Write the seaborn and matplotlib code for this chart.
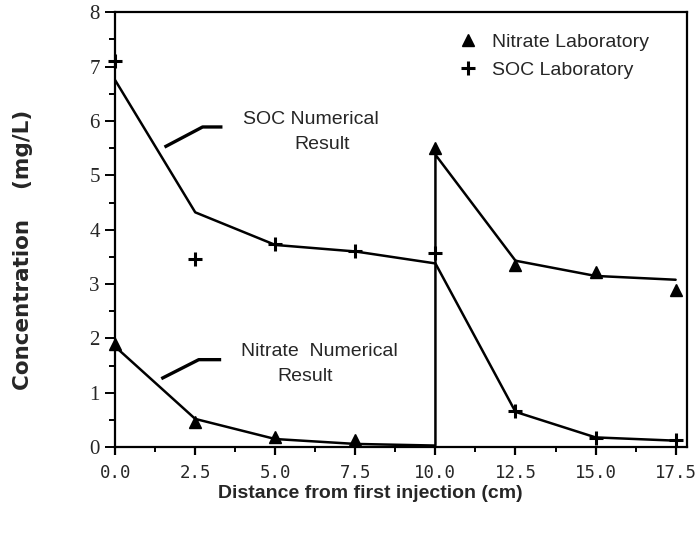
import numpy as np
import pandas as pd
import matplotlib
matplotlib.use("Agg")
import matplotlib.pyplot as plt
from matplotlib.ticker import MultipleLocator, FormatStrFormatter
import seaborn as sns

# distance along column (cm)
dist = [0.0, 2.5, 5.0, 7.5, 10.0, 12.5, 15.0, 17.5]

# laboratory measurements (mg/L)
nitrate_lab = [1.90, 0.47, 0.18, 0.14, 5.50, 3.36, 3.22, 2.90]
soc_lab = [7.10, 3.47, 3.74, 3.60, 3.57, 0.66, 0.17, 0.14]

# numerical results; nitrate is re-injected at 10 cm, hence the repeated x
soc_num_x = [0.0, 2.5, 5.0, 7.5, 10.0, 12.5, 15.0, 17.5]
soc_num_y = [6.75, 4.32, 3.72, 3.60, 3.38, 0.65, 0.18, 0.12]
nit_num_x = [0.0, 2.5, 5.0, 7.5, 10.0, 10.0, 12.5, 15.0, 17.5]
nit_num_y = [1.85, 0.52, 0.15, 0.06, 0.03, 5.38, 3.43, 3.15, 3.08]

# callout leader lines for the curve labels
soc_lead_x = [1.54, 2.73, 3.35]
soc_lead_y = [5.52, 5.89, 5.89]
nit_lead_x = [1.44, 2.61, 3.31]
nit_lead_y = [1.26, 1.61, 1.61]

sns.set_style("ticks")
plt.rcParams['font.family'] = ['Liberation Sans', 'DejaVu Sans']

fig = plt.figure(figsize=(6.98, 5.33), dpi=100)
ax = fig.add_axes([0.165, 0.161, 0.819, 0.816])

soc_df = pd.DataFrame({'x': soc_num_x, 'y': soc_num_y})
nit_df = pd.DataFrame({'x': nit_num_x, 'y': nit_num_y})
sns.lineplot(data=soc_df, x='x', y='y', sort=False, estimator=None,
             color='black', lw=1.8, ax=ax)
sns.lineplot(data=nit_df, x='x', y='y', sort=False, estimator=None,
             color='black', lw=1.8, ax=ax)

ax.plot(dist, nitrate_lab, ls='none', marker='^', ms=9, color='black',
        label='Nitrate Laboratory', clip_on=False, zorder=5)
ax.plot(dist, soc_lab, ls='none', marker='+', ms=10, mew=2.2, color='black',
        label='SOC Laboratory', clip_on=False, zorder=5)

# curve labels
ax.plot(soc_lead_x, soc_lead_y, color='black', lw=2.4, solid_capstyle='butt')
ax.plot(nit_lead_x, nit_lead_y, color='black', lw=2.4, solid_capstyle='butt')
ax.text(6.10, 5.95, 'SOC Numerical', ha='center', va='baseline', fontsize=14)
ax.text(6.47, 5.48, 'Result', ha='center', va='baseline', fontsize=14)
ax.text(6.38, 1.68, 'Nitrate  Numerical', ha='center', va='baseline', fontsize=14)
ax.text(5.92, 1.22, 'Result', ha='center', va='baseline', fontsize=14)

ax.set_xlim(0, 17.85)
ax.set_ylim(0, 8)
ax.xaxis.set_major_locator(MultipleLocator(2.5))
ax.xaxis.set_minor_locator(MultipleLocator(1.25))
ax.xaxis.set_major_formatter(FormatStrFormatter('%.1f'))
ax.yaxis.set_major_locator(MultipleLocator(1))
ax.yaxis.set_minor_locator(MultipleLocator(0.5))

for s in ax.spines.values():
    s.set_linewidth(1.6)
    s.set_color('black')

ax.tick_params(axis='x', which='major', length=6, width=1.6, pad=6,
               direction='out', color='black', labelsize=12.5)
ax.tick_params(axis='x', which='minor', length=3.5, width=1.4,
               direction='out', color='black')
ax.tick_params(axis='y', which='major', length=7, width=1.4, pad=4,
               direction='out', color='black', labelsize=15)
ax.tick_params(axis='y', which='minor', length=4, width=1.4,
               direction='out', color='black')
for lab in ax.get_xticklabels():
    lab.set_family('DejaVu Sans Mono')
for lab in ax.get_yticklabels():
    lab.set_family('Liberation Serif')

ax.set_xlabel('')
ax.set_ylabel('')
fig.text(0.531, 0.075, 'Distance from first injection (cm)', ha='center',
         va='center', fontsize=14, fontweight='bold')
fig.text(0.033, 0.531, 'Concentration    (mg/L)', ha='center', va='center',
         rotation=90, fontsize=15.5, fontweight='bold',
         family=['DejaVu Sans'])

ax.legend(loc='upper left', bbox_to_anchor=(0.600, 0.952), frameon=False,
          fontsize=14, handlelength=1.0, handletextpad=0.75, labelspacing=0.54,
          borderpad=0, borderaxespad=0)

fig.savefig('out.png', dpi=100)
